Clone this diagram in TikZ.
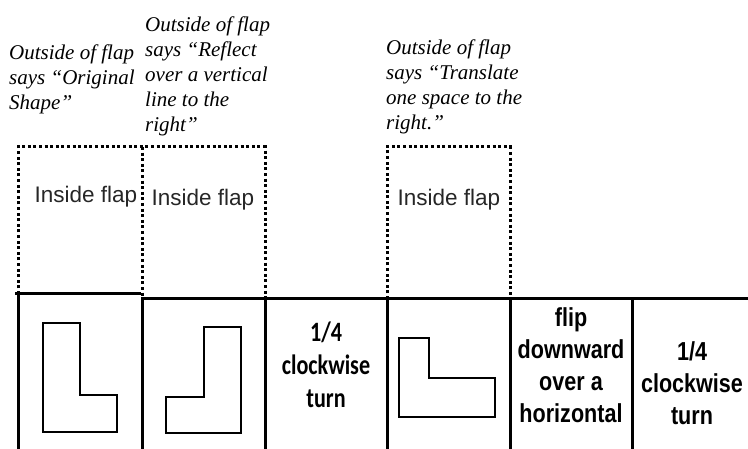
\documentclass[tikz,border=0pt]{standalone}
\usepackage{fontspec}
\usepackage{tikz}
\setmainfont{Liberation Serif}
\newfontfamily\flapfont{Liberation Sans}
\newfontfamily\narrowfont{Liberation Sans}[FakeStretch=0.83]
\newfontfamily\calibfont{Carlito}[FakeStretch=0.79]
\tikzset{
  rule/.style={line width=3bp},
  flapline/.style={line width=3bp, dash pattern=on 3bp off 2.6bp},
  lshape/.style={line width=2.6bp, line join=miter},
  outside/.style={anchor=north west, inner sep=0pt, align=left,
    font=\fontsize{21bp}{25bp}\selectfont\itshape},
  inside/.style={inner sep=0pt, font=\flapfont\fontsize{22.5bp}{25bp}\selectfont, text=black!85},
  cellnarrow/.style={inner sep=0pt, align=center,
    font=\narrowfont\bfseries\fontsize{26bp}{32bp}\selectfont},
  cellcalib/.style={inner sep=0pt, align=center,
    font=\calibfont\bfseries\fontsize{28bp}{33bp}\selectfont}
}

\begin{document}
\begin{tikzpicture}[x=1bp, y=-1bp]
    \useasboundingbox (0,0) rectangle (748,449);
    % labels above the flaps
    \node[outside] (out1) at (9,45) {Outside of flap\\says “Original\\Shape”};
    \node[outside] (out2) at (145,17) {Outside of flap\\says “Reflect\\over a vertical\\line to the\\right”};
    \node[outside] (out3) at (386,40) {Outside of flap\\says “Translate\\one space to the\\right.”};
    % dotted flaps
    \draw[flapline] (18,294) -- (18,147) -- (265,147) -- (265,299);
    \draw[flapline] (142,147) -- (142,299);
    \draw[flapline] (387,299) -- (387,147) -- (510,147) -- (510,299);
    \node[inside] (in1) at (86,197) {Inside flap};
    \node[inside] (in2) at (203,200) {Inside flap};
    \node[inside] (in3) at (449,200) {Inside flap};
    % table rules
    \draw[rule] (15,294) -- (141,294);
    \draw[rule] (141,299) -- (748,299);
    \draw[rule] (18,292) -- (18,449);
    \foreach \x in {142,265,387,510,632}
        \draw[rule] (\x,299) -- (\x,449);
    % shapes in the cells
    \draw[lshape] (43,323) -- (80,323) -- (80,395) -- (117,395) -- (117,432) -- (43,432) -- cycle;
    \draw[lshape] (204,327) -- (241,327) -- (241,433) -- (166,433) -- (166,397) -- (204,397) -- cycle;
    \draw[lshape, line width=2.4bp] (399,338) -- (429,338) -- (429,378) -- (495,378) -- (495,417) -- (399,417) -- cycle;
    % words in the cells
    \node[cellcalib] (turn1) at (326,365) {1/4\\clockwise\\turn};
    \node[cellnarrow] (flip) at (571,365) {flip\\downward\\over a\\horizontal};
    \node[cellnarrow] (turn2) at (692,383) {1/4\\clockwise\\turn};
\end{tikzpicture}
\end{document}
